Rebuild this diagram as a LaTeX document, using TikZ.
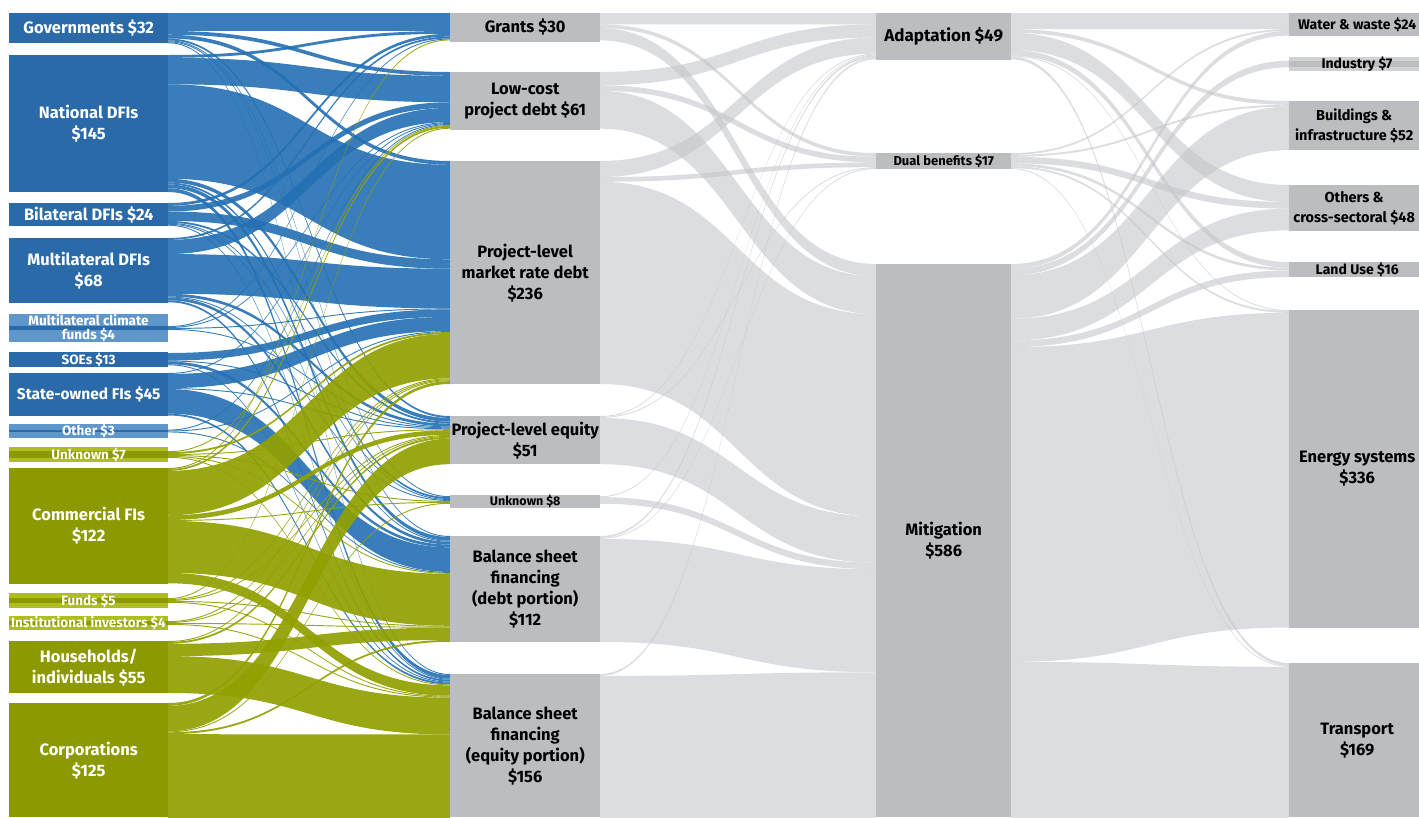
\documentclass[tikz,border=0pt]{standalone}
\usepackage{fontspec}
\setmainfont{Fira Sans}
\definecolor{boxblue}{HTML}{2A6AA8}
\definecolor{lightblue}{HTML}{5F97CB}
\definecolor{bandblue}{HTML}{2470B3}
\definecolor{boxgreen}{HTML}{8D9900}
\definecolor{lightgreen}{HTML}{AEBE22}
\definecolor{bandgreen}{HTML}{91A000}
\definecolor{boxgray}{HTML}{BCBDC0}
\definecolor{lightgraybox}{HTML}{D0D1D3}
\definecolor{bandgray}{HTML}{C5C6CB}
\newcommand\kscale{0.945}
\newcommand\regnode[2]{\expandafter\xdef\csname SO#1\endcsname{#2}\expandafter\xdef\csname SI#1\endcsname{#2}}
\newcommand\sflow[6]{%
  \pgfmathsetmacro\fya{\csname SO#1\endcsname}%
  \pgfmathsetmacro\fyb{\fya+#3*\kscale}%
  \pgfmathsetmacro\fyc{\csname SI#2\endcsname}%
  \pgfmathsetmacro\fyd{\fyc+#3*\kscale}%
  \expandafter\xdef\csname SO#1\endcsname{\fyb}%
  \expandafter\xdef\csname SI#2\endcsname{\fyd}%
  \pgfmathsetmacro\fxm{(#5+#6)/2}%
  \fill[#4] (#5,\fya) .. controls (\fxm,\fya) and (\fxm,\fyc) .. (#6,\fyc) -- (#6,\fyd) .. controls (\fxm,\fyd) and (\fxm,\fyb) .. (#5,\fyb) -- cycle;%
}
\newcommand\bandA[4]{\sflow{#1}{#2}{#3}{#4}{168}{450}}
\newcommand\bandB[3]{\sflow{#1}{#2}{#3}{grayband}{600}{876}}
\newcommand\bandC[3]{\sflow{#1}{#2}{#3}{grayband}{1011}{1289}}
\tikzset{
  blueband/.style={fill=bandblue, fill opacity=0.9},
  greenband/.style={fill=bandgreen, fill opacity=0.92},
  grayband/.style={fill=bandgray, fill opacity=0.6},
  bigfont/.style={font=\bfseries\fontsize{16.5}{21}\selectfont},
  smallfont/.style={font=\bfseries\fontsize{13.5}{14}\selectfont},
  basebox/.style={rectangle, inner sep=0pt, anchor=north west, align=center},
  srcblue/.style={basebox, fill=boxblue, text=white, minimum width=159pt, bigfont},
  srcgreen/.style={basebox, fill=boxgreen, text=white, minimum width=159pt, bigfont},
  instbox/.style={basebox, fill=boxgray, text=black, minimum width=150pt, bigfont},
  usebox/.style={basebox, fill=boxgray, text=black, minimum width=135pt, bigfont},
  secbox/.style={basebox, fill=boxgray, text=black, minimum width=136pt, bigfont},
  lbl/.style={inner sep=0pt, align=center},
}
\begin{document}
\begin{tikzpicture}[x=1pt,y=-1pt]
\clip (0,0) rectangle (1419,817);
% offsets
\regnode{gov}{13}\regnode{nat}{55}\regnode{bil}{203}\regnode{mul}{238}
\regnode{mcf}{326.1}\regnode{soe}{353}\regnode{sofi}{373}\regnode{oth}{429.6}
\regnode{unk}{451.2}\regnode{com}{468}\regnode{fund}{598.1}\regnode{inst}{621.1}
\regnode{hh}{641}\regnode{corp}{703}
\regnode{gr}{13}\regnode{lc}{72}\regnode{mr}{161}\regnode{eq}{416}
\regnode{un}{496.2}\regnode{bd}{536}\regnode{be}{674}
\regnode{ad}{13}\regnode{du}{153}\regnode{mi}{264}
\regnode{ww}{13}\regnode{ind}{60.7}\regnode{bld}{101}\regnode{os}{185}
\regnode{lu}{262}\regnode{en}{310}\regnode{tr}{663}
% gray flows: instruments -> uses
\bandB{gr}{ad}{12}\bandB{gr}{du}{4}\bandB{gr}{mi}{13}
\bandB{lc}{ad}{14}\bandB{lc}{du}{6}\bandB{lc}{mi}{40}
\bandB{mr}{ad}{17}\bandB{mr}{du}{5}\bandB{mr}{mi}{214}
\bandB{eq}{ad}{1}\bandB{eq}{du}{1}\bandB{eq}{mi}{49}
\bandB{un}{ad}{1}\bandB{un}{mi}{7}
\bandB{bd}{ad}{2}\bandB{bd}{du}{1}\bandB{bd}{mi}{109}
\bandB{be}{ad}{2}\bandB{be}{mi}{154}
% gray flows: uses -> sectors
\bandC{ad}{ww}{17}\bandC{ad}{bld}{4}\bandC{ad}{os}{18}\bandC{ad}{lu}{6}\bandC{ad}{en}{1}\bandC{ad}{tr}{3}
\bandC{du}{ww}{2}\bandC{du}{bld}{2}\bandC{du}{os}{7}\bandC{du}{lu}{3}\bandC{du}{en}{2}\bandC{du}{tr}{1}
\bandC{mi}{ww}{5}\bandC{mi}{ind}{7}\bandC{mi}{bld}{46}\bandC{mi}{os}{23}\bandC{mi}{lu}{7}\bandC{mi}{en}{333}\bandC{mi}{tr}{165}
% colored flows: sources -> instruments
\bandA{gov}{gr}{19}{blueband}\bandA{gov}{lc}{4}{blueband}\bandA{gov}{mr}{4}{blueband}\bandA{gov}{eq}{2}{blueband}\bandA{gov}{un}{1}{blueband}\bandA{gov}{bd}{1}{blueband}\bandA{gov}{be}{1}{blueband}
\bandA{nat}{gr}{3}{blueband}\bandA{nat}{lc}{28}{blueband}\bandA{nat}{mr}{100}{blueband}\bandA{nat}{eq}{4}{blueband}\bandA{nat}{un}{2}{blueband}\bandA{nat}{bd}{4}{blueband}\bandA{nat}{be}{4}{blueband}
\bandA{bil}{gr}{3}{blueband}\bandA{bil}{lc}{6}{blueband}\bandA{bil}{mr}{10}{blueband}\bandA{bil}{eq}{2}{blueband}\bandA{bil}{un}{1}{blueband}\bandA{bil}{bd}{1}{blueband}\bandA{bil}{be}{1}{blueband}
\bandA{mul}{gr}{2}{blueband}\bandA{mul}{lc}{15}{blueband}\bandA{mul}{mr}{42}{blueband}\bandA{mul}{eq}{3}{blueband}\bandA{mul}{un}{1}{blueband}\bandA{mul}{bd}{3}{blueband}\bandA{mul}{be}{2}{blueband}
\bandA{mcf}{gr}{1}{blueband}\bandA{mcf}{lc}{1}{blueband}\bandA{mcf}{mr}{1}{blueband}\bandA{mcf}{eq}{1}{blueband}
\bandA{soe}{mr}{8}{blueband}\bandA{soe}{eq}{1}{blueband}\bandA{soe}{bd}{3}{blueband}\bandA{soe}{be}{1}{blueband}
\bandA{sofi}{lc}{1}{blueband}\bandA{sofi}{mr}{15}{blueband}\bandA{sofi}{eq}{1}{blueband}\bandA{sofi}{bd}{26}{blueband}\bandA{sofi}{be}{2}{blueband}
\bandA{oth}{lc}{1}{blueband}\bandA{oth}{mr}{1}{blueband}\bandA{oth}{bd}{1}{blueband}
\bandA{unk}{lc}{1}{greenband}\bandA{unk}{mr}{2}{greenband}\bandA{unk}{eq}{1}{greenband}\bandA{unk}{un}{1}{greenband}\bandA{unk}{bd}{1}{greenband}\bandA{unk}{be}{1}{greenband}
\bandA{com}{gr}{1}{greenband}\bandA{com}{lc}{2}{greenband}\bandA{com}{mr}{47}{greenband}\bandA{com}{eq}{5}{greenband}\bandA{com}{un}{1}{greenband}\bandA{com}{bd}{55}{greenband}\bandA{com}{be}{11}{greenband}
\bandA{fund}{lc}{1}{greenband}\bandA{fund}{mr}{1}{greenband}\bandA{fund}{eq}{1}{greenband}\bandA{fund}{bd}{1}{greenband}\bandA{fund}{be}{1}{greenband}
\bandA{inst}{mr}{1}{greenband}\bandA{inst}{eq}{1}{greenband}\bandA{inst}{bd}{1}{greenband}\bandA{inst}{be}{1}{greenband}
\bandA{hh}{mr}{1}{greenband}\bandA{hh}{eq}{2}{greenband}\bandA{hh}{bd}{13}{greenband}\bandA{hh}{be}{39}{greenband}
\bandA{corp}{mr}{3}{greenband}\bandA{corp}{eq}{27}{greenband}\bandA{corp}{un}{1}{greenband}\bandA{corp}{bd}{2}{greenband}\bandA{corp}{be}{92}{greenband}
% source boxes
\node[srcblue, minimum height=30pt] (gov) at (9,13) {Governments \$32};
\node[srcblue, minimum height=137pt] (nat) at (9,55) {National DFIs\\\$145};
\node[srcblue, minimum height=23pt] (bil) at (9,203) {Bilateral DFIs \$24};
\node[srcblue, minimum height=65pt] (mul) at (9,238) {Multilateral DFIs\\\$68};
\fill[lightblue] (9,314) rectangle (168,342);
\fill[boxblue] (9,326.1) rectangle (168,329.9);
\node[lbl, smallfont, text=white] (mcf) at (88.5,328.5) {Multilateral climate\\funds \$4};
\node[srcblue, smallfont, minimum height=15pt] (soe) at (9,352) {SOEs \$13};
\node[srcblue, font=\bfseries\fontsize{15.5}{20}\selectfont, minimum height=42.5pt] (sofi) at (9,373) {State-owned FIs \$45};
\fill[lightblue] (9,424) rectangle (168,438);
\fill[boxblue] (9,429.6) rectangle (168,432.4);
\node[lbl, smallfont, text=white] (oth) at (88.5,431) {Other \$3};
\fill[lightgreen] (9,447) rectangle (168,462);
\fill[boxgreen] (9,451.2) rectangle (168,457.8);
\node[lbl, smallfont, text=white] (unk) at (88.5,454.5) {Unknown \$7};
\node[srcgreen, minimum height=115.3pt] (com) at (9,468) {Commercial FIs\\\$122};
\fill[lightgreen] (9,593) rectangle (168,608);
\fill[boxgreen] (9,598.1) rectangle (168,602.9);
\node[lbl, smallfont, text=white] (fund) at (88.5,600.5) {Funds \$5};
\fill[lightgreen] (9,616) rectangle (168,630);
\fill[boxgreen] (9,621.1) rectangle (168,624.9);
\node[lbl, smallfont, text=white] (inst) at (88.5,623) {Institutional investors \$4};
\node[srcgreen, minimum height=52pt] (hh) at (9,641) {Households/\\individuals \$55};
\node[srcgreen, minimum height=114pt] (corp) at (9,703) {Corporations\\\$125};
% instrument boxes
\node[instbox, minimum height=28.35pt] (gr) at (450,13) {Grants \$30};
\node[instbox, minimum height=57.6pt] (lc) at (450,72) {Low-cost\\project debt \$61};
\node[instbox, minimum height=223pt] (mr) at (450,161) {Project-level\\market rate debt\\\$236};
\node[instbox, minimum height=48.2pt] (eq) at (450,416) {Project-level equity\\\$51};
\node[instbox, font=\bfseries\fontsize{12.5}{13}\selectfont, minimum height=10pt] (un) at (450,495) {Unknown \$8};
\node[instbox, minimum height=105.8pt] (bd) at (450,536) {Balance sheet\\financing\\(debt portion)\\\$112};
\node[instbox, minimum height=143pt] (be) at (450,674) {Balance sheet\\financing\\(equity portion)\\\$156};
% use boxes
\node[usebox, font=\bfseries\fontsize{17}{21}\selectfont, minimum height=46.3pt] (ad) at (876,13) {Adaptation \$49};
\node[usebox, font=\bfseries\fontsize{13}{14}\selectfont, minimum height=16pt] (du) at (876,153) {Dual benefits \$17};
\node[usebox, minimum height=553pt] (mi) at (876,264) {Mitigation\\\$586};
% sector boxes
\node[secbox, font=\bfseries\fontsize{14}{19}\selectfont, minimum height=22.7pt] (ww) at (1289,13) {Water \& waste \$24};
\fill[lightgraybox] (1289,57) rectangle (1425,71);
\fill[boxgray] (1289,60.7) rectangle (1425,67.3);
\node[lbl, font=\bfseries\fontsize{14}{19}\selectfont] (ind) at (1357,64) {Industry \$7};
\node[secbox, font=\bfseries\fontsize{14.5}{20}\selectfont, minimum height=49.1pt, minimum width=130pt] (bld) at (1289,101) {Buildings \&\\infrastructure \$52};
\node[secbox, font=\bfseries\fontsize{14.5}{20}\selectfont, minimum height=45.4pt, minimum width=130pt] (os) at (1289,185) {Others \&\\cross-sectoral \$48};
\node[secbox, font=\bfseries\fontsize{14}{19}\selectfont, minimum height=15.1pt] (lu) at (1289,262) {Land Use \$16};
\node[secbox, minimum height=317.5pt] (en) at (1289,310) {Energy systems\\\$336};
\node[secbox, minimum height=154pt] (tr) at (1289,663) {Transport\\\$169};
\end{tikzpicture}
\end{document}
